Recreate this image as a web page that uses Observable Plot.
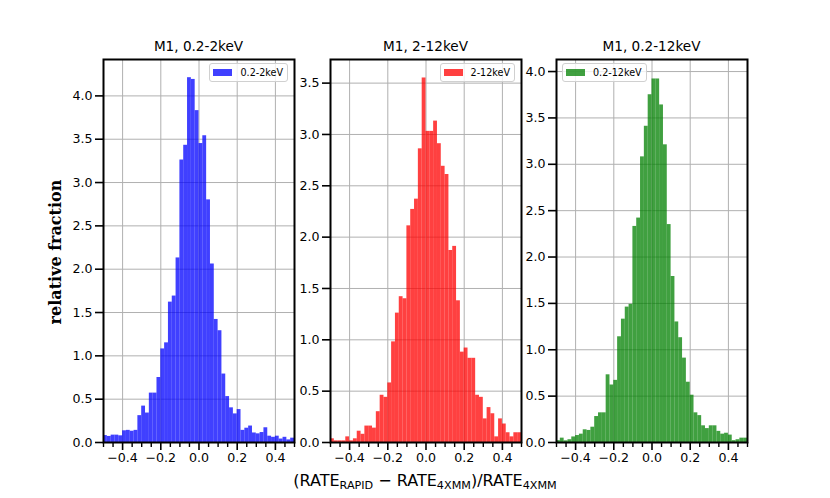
<!DOCTYPE html>
<html><head><meta charset="utf-8">
<script src="https://cdn.jsdelivr.net/npm/d3@7"></script>
<script src="https://cdn.jsdelivr.net/npm/@observablehq/plot@0.6"></script>
<style>
body{margin:0;background:#fff;font-family:"DejaVu Sans",sans-serif;}
#wrap{position:relative;width:830px;height:498px;overflow:hidden;background:#fff;}
.panel{position:absolute;}
.panel svg{max-width:none;background:transparent;}
.title{position:absolute;font-size:13.6px;text-align:center;width:200px;white-space:nowrap;}
.legend{position:absolute;height:17px;border:1px solid #d0d0d0;border-radius:3px;background:rgba(255,255,255,0.8);display:flex;align-items:center;font-size:9.6px;padding:0 4px 0 3px;white-space:nowrap;}
.legend .sw{display:inline-block;width:19px;height:7px;margin-right:8px;}
#ylab{position:absolute;left:55px;top:252px;transform:translate(-50%,-50%) rotate(-90deg);font-family:"DejaVu Serif",serif;font-weight:bold;font-size:16px;white-space:nowrap;}
#xlab{position:absolute;left:425px;top:471px;transform:translateX(-50%);font-size:16px;white-space:nowrap;}
#xlab sub{font-size:11.2px;vertical-align:-3px;line-height:0;}
</style></head><body>
<div id="wrap">
  <div id="ylab">relative fraction</div>
  <div id="xlab">(RATE<sub>RAPID</sub> − RATE<sub>4XMM</sub>)/RATE<sub>4XMM</sub></div>
</div>
<script>
// bin edges (width 0.02)
const binEdges = [-0.50,-0.48,-0.46,-0.44,-0.42,-0.40,-0.38,-0.36,-0.34,-0.32,-0.30,-0.28,-0.26,-0.24,-0.22,-0.20,-0.18,-0.16,-0.14,-0.12,-0.10,-0.08,-0.06,-0.04,-0.02,0.00,0.02,0.04,0.06,0.08,0.10,0.12,0.14,0.16,0.18,0.20,0.22,0.24,0.26,0.28,0.30,0.32,0.34,0.36,0.38,0.40,0.42,0.44,0.46,0.48,0.50];
const soft = [0.08,0.07,0.085,0.085,0.077,0.135,0.14,0.13,0.14,0.31,0.42,0.34,0.57,0.57,0.75,1.08,1.15,1.62,1.69,2.13,3.26,3.43,4.21,4.19,3.83,3.45,3.54,2.80,2.06,1.42,1.29,0.79,0.53,0.40,0.33,0.38,0.14,0.165,0.19,0.11,0.10,0.115,0.17,0.073,0.06,0.073,0.04,0.06,0.03,0.05];
const hard = [0.036,0.016,0.016,0.016,0.055,0.016,0.036,0.11,0.08,0.16,0.16,0.14,0.30,0.46,0.44,0.58,0.98,1.26,1.42,1.40,2.11,2.27,2.37,2.86,3.55,3.03,3.03,3.13,2.91,2.69,2.61,1.87,1.91,1.38,0.88,0.92,0.82,0.82,0.46,0.44,0.23,0.34,0.28,0.055,0.23,0.18,0.095,0.055,0.095,0.095];
const full = [0.02,0.047,0.018,0.03,0.06,0.075,0.09,0.137,0.13,0.165,0.28,0.32,0.32,0.73,0.62,0.67,1.14,1.33,1.46,1.49,2.33,2.42,3.08,3.41,3.75,3.92,3.92,3.64,3.21,2.35,1.79,1.30,1.13,0.91,0.65,0.51,0.32,0.29,0.18,0.15,0.18,0.18,0.12,0.09,0.10,0.08,0.02,0.03,0.047,0.047];

const titles = ["M1, 0.2-2keV","M1, 2-12keV","M1, 0.2-12keV"];
const legendLabels = ["0.2-2keV","2-12keV","0.2-12keV"];
const colors = ["#0000ff","#ff0000","#008000"];
const xTicks = [-0.4,-0.2,0.0,0.2,0.4];
const xMinor = [-0.5,-0.45,-0.35,-0.3,-0.25,-0.15,-0.1,-0.05,0.05,0.1,0.15,0.25,0.3,0.35,0.45,0.5];
const yTicksA = [0,0.5,1.0,1.5,2.0,2.5,3.0,3.5,4.0];
const yTicksB = [0,0.5,1.0,1.5,2.0,2.5,3.0,3.5];
const yMax = [4.42,3.73,4.13];

const series = [soft, hard, full];
const yTickSets = [yTicksA, yTicksB, yTicksA];
const frameLeft = [103, 330, 556];
const frameTop = 59, W = 191, H = 383;
const ml = 42, mr = 10, mt = 6, mb = 30;
const fmt = d3.format(".1f");
const wrap = document.getElementById("wrap");

series.forEach((vals, k) => {
  const data = vals.map((v, i) => ({x1: binEdges[i], x2: binEdges[i + 1], y: v}));
  const chart = Plot.plot({
    width: W + ml + mr, height: H + mt + mb,
    marginLeft: ml, marginRight: mr, marginTop: mt, marginBottom: mb,
    style: {fontFamily: "DejaVu Sans", fontSize: "12.6px", color: "black", background: "transparent"},
    x: {domain: [-0.5, 0.5], label: null},
    y: {domain: [0, yMax[k]], label: null},
    marks: [
      Plot.gridX(xTicks, {stroke: "#b0b0b0", strokeOpacity: 1, strokeWidth: 1}),
      Plot.gridY(yTickSets[k], {stroke: "#b0b0b0", strokeOpacity: 1, strokeWidth: 1}),
      Plot.rectY(data, {x1: "x1", x2: "x2", y: "y", fill: colors[k], fillOpacity: 0.75, inset: 0}),
      Plot.axisX(xMinor, {tickSize: 5, strokeWidth: 1.4, tickFormat: () => ""}),
      Plot.axisX(xTicks, {tickSize: 8, strokeWidth: 1.6, tickPadding: 3, tickFormat: fmt, fontSize: 12.6}),
      Plot.axisY(yTickSets[k], {tickSize: 8, strokeWidth: 1.6, tickPadding: 3, tickFormat: fmt, fontSize: 12.6}),
      Plot.frame({stroke: "black", strokeWidth: 2})
    ]
  });
  const div = document.createElement("div");
  div.className = "panel";
  div.style.left = (frameLeft[k] - ml) + "px";
  div.style.top = (frameTop - mt) + "px";
  div.appendChild(chart);
  wrap.appendChild(div);

  const t = document.createElement("div");
  t.className = "title";
  t.textContent = titles[k];
  t.style.left = (frameLeft[k] + W / 2 - 100) + "px";
  t.style.top = "38px";
  wrap.appendChild(t);

  const lg = document.createElement("div");
  lg.className = "legend";
  lg.innerHTML = `<span class="sw" style="background:${colors[k]};opacity:0.75"></span>${legendLabels[k]}`;
  lg.style.top = "63px";
  if (k < 2) lg.style.right = (830 - (frameLeft[k] + W - 6)) + "px";
  else lg.style.left = (frameLeft[k] + 6) + "px";
  wrap.appendChild(lg);
});
</script>
</body></html>
